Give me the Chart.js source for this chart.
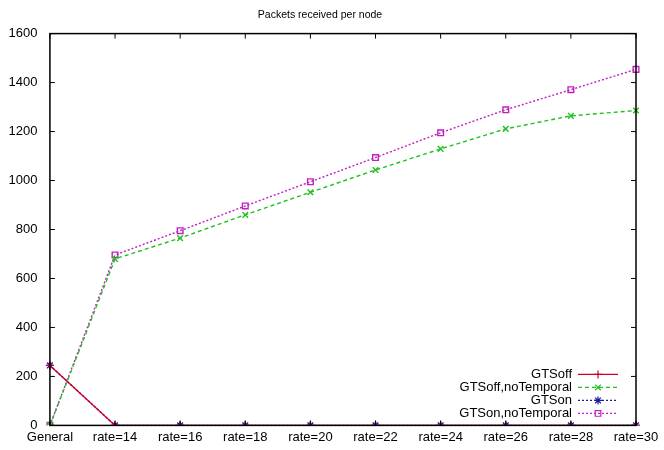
<!DOCTYPE html>
<html>
<head>
<meta charset="utf-8">
<script src="https://cdn.jsdelivr.net/npm/chart.js@4"></script>
<style>
  html, body { margin: 0; padding: 0; background: #fff; }
  #wrap { width: 664px; height: 450px; }
</style>
</head>
<body>
<div id="wrap"><canvas id="packetsChart"></canvas></div>
<script>
const categories = ['General', 'rate=14', 'rate=16', 'rate=18', 'rate=20', 'rate=22', 'rate=24', 'rate=26', 'rate=28', 'rate=30'];
const gtsOff = [245, 0, 0, 0, 0, 0, 0, 0, 0, 0];
const gtsOffNoTemporal = [0, 680, 765, 860, 952, 1043, 1129, 1211, 1264, 1286];
const gtsOn = [245, 0, 0, 0, 0, 0, 0, 0, 0, 0];
const gtsOnNoTemporal = [0, 696, 795, 896, 995, 1094, 1195, 1289, 1371, 1454];
const yTicks = [0, 200, 400, 600, 800, 1000, 1200, 1400, 1600];

const FONT = '"Liberation Sans", Arial, sans-serif';

// gnuplot style: inward ticks on all four sides plus a closed frame
const framePlugin = {
    id: 'frame',
    afterDatasetsDraw(chart) {
        const { ctx, chartArea: a, scales } = chart;
        ctx.save();
        ctx.strokeStyle = '#000';
        ctx.lineWidth = 1.5;
        ctx.strokeRect(a.left, a.top, a.right - a.left, a.bottom - a.top);
        ctx.lineWidth = 1;
        const t = 5;
        scales.x.ticks.forEach((tk, i) => {
            const x = scales.x.getPixelForTick(i);
            ctx.beginPath();
            ctx.moveTo(x, a.bottom); ctx.lineTo(x, a.bottom - t);
            ctx.moveTo(x, a.top); ctx.lineTo(x, a.top + t);
            ctx.stroke();
        });
        scales.y.ticks.forEach((tk, i) => {
            const y = scales.y.getPixelForTick(i);
            ctx.beginPath();
            ctx.moveTo(a.left, y); ctx.lineTo(a.left + t, y);
            ctx.moveTo(a.right, y); ctx.lineTo(a.right - t, y);
            ctx.stroke();
        });
        ctx.restore();
    }
};

// key in the lower right corner, text right aligned like gnuplot
const keyPlugin = {
    id: 'key',
    afterDraw(chart) {
        const { ctx, chartArea: a } = chart;
        ctx.save();
        ctx.font = '13px ' + FONT;
        ctx.textAlign = 'right';
        ctx.textBaseline = 'middle';
        const textRight = a.right - 64;
        const x0 = a.right - 58, x1 = a.right - 18;
        chart.data.datasets.forEach((ds, i) => {
            const y = a.bottom - 51 + i * 13;
            ctx.fillStyle = '#000';
            ctx.fillText(ds.label, textRight, y);
            ctx.strokeStyle = ds.borderColor;
            ctx.lineWidth = ds.borderWidth;
            ctx.setLineDash(ds.borderDash || []);
            ctx.beginPath();
            ctx.moveTo(x0, y); ctx.lineTo(x1, y);
            ctx.stroke();
            ctx.setLineDash([]);
            ctx.fillStyle = 'rgba(0,0,0,0)';
            ctx.lineWidth = 1.2;
            Chart.helpers.drawPoint(ctx, {
                pointStyle: ds.pointStyle, radius: ds.pointRadius, borderWidth: 1.2
            }, (x0 + x1) / 2, y);
        });
        ctx.restore();
    }
};

function series(label, data, color, dash, style, radius) {
    return {
        label: label,
        data: data,
        borderColor: color,
        backgroundColor: 'transparent',
        borderWidth: 1.4,
        borderDash: dash,
        pointStyle: style,
        pointRadius: radius,
        pointBorderColor: color,
        pointBackgroundColor: 'transparent',
        pointBorderWidth: 1.4,
        tension: 0
    };
}

new Chart(document.getElementById('packetsChart'), {
    type: 'line',
    data: {
        labels: categories,
        datasets: [
            series('GTSoff', gtsOff, '#d0002a', [], 'cross', 4),
            series('GTSoff,noTemporal', gtsOffNoTemporal, '#20c020', [4, 3], 'crossRot', 4),
            series('GTSon', gtsOn, '#1a1aa0', [2, 2], 'star', 4),
            series('GTSon,noTemporal', gtsOnNoTemporal, '#c020c0', [2, 2], 'rect', 4)
        ]
    },
    options: {
        responsive: true,
        maintainAspectRatio: false,
        animation: false,
        layout: { padding: { left: 4, right: 28, top: 4, bottom: 9 } },
        plugins: {
            legend: { display: false },
            tooltip: { enabled: false },
            title: {
                display: true,
                text: 'Packets received per node',
                color: '#000',
                font: { family: FONT, size: 10.5, weight: 'normal' },
                padding: { top: 5, bottom: 12 }
            }
        },
        scales: {
            x: {
                offset: false,
                grid: { display: false },
                border: { display: false },
                ticks: {
                    color: '#000',
                    font: { family: FONT, size: 13 },
                    maxRotation: 0,
                    autoSkip: false,
                    padding: -4
                }
            },
            y: {
                min: 0,
                max: 1600,
                afterBuildTicks(scale) {
                    scale.ticks = yTicks.map(v => ({ value: v }));
                },
                grid: { display: false },
                border: { display: false },
                ticks: {
                    color: '#000',
                    font: { family: FONT, size: 13 },
                    padding: 4.5,
                    callback: v => String(v)
                }
            }
        }
    },
    plugins: [framePlugin, keyPlugin]
});
</script>
</body>
</html>
